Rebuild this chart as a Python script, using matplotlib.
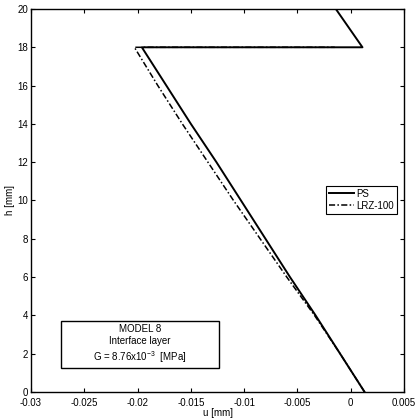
import matplotlib

matplotlib.use("Agg")
import matplotlib.pyplot as plt  # noqa: E402
from matplotlib.patches import Rectangle  # noqa: E402

# displacement profiles u(h)
h_ps = [0, 2, 4, 6, 8, 10, 12, 14, 16, 18, 18, 20]
u_ps = [0.0013, -0.0010, -0.0033, -0.0057, -0.0080, -0.0103,
        -0.0126, -0.0150, -0.0173, -0.0196, 0.0011, -0.0014]

h_lrz = [0, 2, 4, 6, 8, 10, 12, 14, 16, 18, 18]
u_lrz = [0.0013, -0.0010, -0.0034, -0.0060, -0.0085, -0.0110,
         -0.0134, -0.0158, -0.0181, -0.0203, -0.0015]

xticks = [-0.03, -0.025, -0.02, -0.015, -0.01, -0.005, 0, 0.005]
xlabels = ["-0.03", "-0.025", "-0.02", "-0.015", "-0.01", "-0.005", "0", "0.005"]
yticks = list(range(0, 21, 2))

plt.rcParams.update({
    "font.family": ["Liberation Sans", "DejaVu Sans"],
    "font.size": 7,
    "mathtext.fontset": "custom",
    "mathtext.rm": "Liberation Sans",
})

fig = plt.figure(figsize=(4.2, 4.2), dpi=100)
ax = fig.add_axes([0.0738, 0.0667, 0.8882, 0.9119])

ax.plot(u_ps, h_ps, color="black", lw=1.4, label="PS")
ax.plot(u_lrz, h_lrz, color="black", lw=1.1, ls=(0, (4, 1.5, 1, 1.5)), label="LRZ-100")

ax.set_xlim(-0.03, 0.005)
ax.set_ylim(0, 20)
ax.set_xticks(xticks)
ax.set_xticklabels(xlabels)
ax.set_yticks(yticks)
ax.tick_params(direction="in", top=True, right=True, length=3, width=0.8, pad=2)
ax.tick_params(axis="x", pad=4)
for s in ax.spines.values():
    s.set_linewidth(1.0)

ax.set_xlabel("u [mm]", labelpad=0)
ax.set_ylabel("h [mm]", labelpad=2)

leg = ax.legend(loc="upper right", bbox_to_anchor=(0.981, 0.538), fancybox=False,
                edgecolor="black", framealpha=1, handlelength=2.6, borderpad=0.3,
                labelspacing=0.2, handletextpad=0.2, borderaxespad=0)
leg.get_frame().set_linewidth(0.8)

ax.add_patch(Rectangle((0.080, 0.063), 0.424, 0.122, transform=ax.transAxes,
                       fill=False, edgecolor="black", lw=1.0))
ax.text(0.292, 0.124, "MODEL 8\nInterface layer\nG = 8.76x10$^{-3}$  [MPa]",
        transform=ax.transAxes, ha="center", va="center", linespacing=1.3)

fig.savefig("out.png", dpi=100)
